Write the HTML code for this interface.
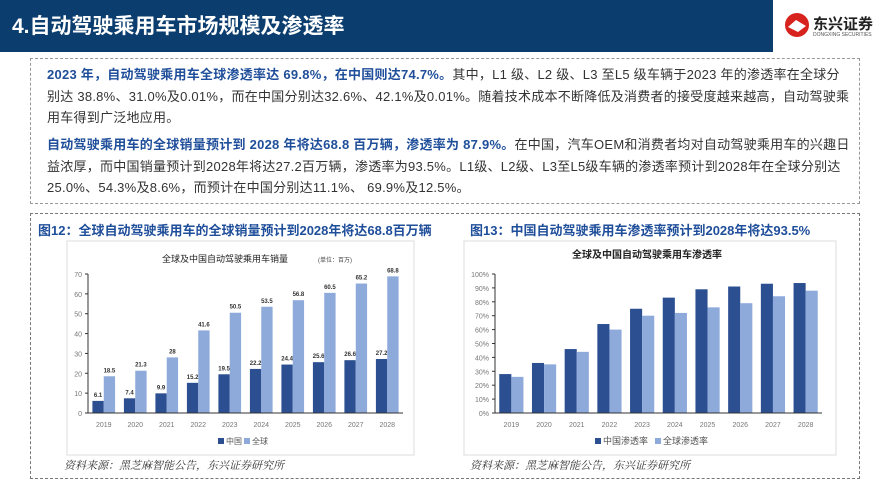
<!DOCTYPE html>
<html><head><meta charset="utf-8">
<style>
body{margin:0;width:889px;height:500px;background:#fff;position:relative;overflow:hidden;font-family:"Liberation Sans","Noto Sans CJK SC",sans-serif;}
.abs{position:absolute;}
#hdr{left:0;top:0;width:773px;height:52px;background:#0b3d6e;}
#hdr span{position:absolute;left:12px;top:10px;color:#fff;font-size:21px;font-weight:bold;}
.txt{font-size:13px;color:#333;line-height:21.5px;white-space:nowrap;letter-spacing:0.25px;}
.b{color:#1f4e9a;font-weight:bold;}
.cap{font-size:13px;color:#1f4e9a;font-weight:bold;}
.src{font-size:11px;font-style:italic;color:#333;font-family:"Liberation Serif","Noto Serif CJK SC",serif;}
svg text{font-family:"Liberation Sans","Noto Sans CJK SC",sans-serif;}
</style></head><body>
<div id="hdr" class="abs"><span>4.自动驾驶乘用车市场规模及渗透率</span></div>
<div class="abs" style="left:784px;top:12px;width:100px;height:30px;">
<svg width="26" height="26" style="position:absolute;left:0;top:0"><circle cx="13" cy="13" r="12" fill="#d7231e"/><path d="M4 15 L12 8 L22 14 L14 20Z" fill="#fff"/></svg>
<span style="position:absolute;left:29px;top:1px;font-size:15px;font-weight:bold;color:#222;">东兴证券</span>
<span style="position:absolute;left:29px;top:20px;font-size:5px;color:#555;">DONGXING SECURITIES</span>
</div>
<div class="abs" style="left:30px;top:58px;width:828px;height:144px;border:1px dashed #999;">
<div class="abs txt" style="left:16px;top:5px;width:800px;"><span class="b">2023 年，自动驾驶乘用车全球渗透率达 69.8%，在中国则达74.7%。</span>其中，L1 级、L2 级、L3 至L5 级车辆于2023 年的渗透率在全球分<br>别达 38.8%、31.0%及0.01%，而在中国分别达32.6%、42.1%及0.01%。随着技术成本不断降低及消费者的接受度越来越高，自动驾驶乘<br>用车得到广泛地应用。</div>
<div class="abs txt" style="left:16px;top:75px;width:800px;"><span class="b">自动驾驶乘用车的全球销量预计到 2028 年将达68.8 百万辆，渗透率为 87.9%。</span>在中国，汽车OEM和消费者均对自动驾驶乘用车的兴趣日<br>益浓厚，而中国销量预计到2028年将达27.2百万辆，渗透率为93.5%。L1级、L2级、L3至L5级车辆的渗透率预计到2028年在全球分别达<br>25.0%、54.3%及8.6%，而预计在中国分别达11.1%、 69.9%及12.5%。</div>
</div>
<div class="abs" style="left:30px;top:213px;width:828px;height:264px;border:1px dashed #777;"></div>
<div class="abs cap" style="left:38px;top:220px;">图12：全球自动驾驶乘用车的全球销量预计到2028年将达68.8百万辆</div>
<div class="abs cap" style="left:470px;top:220px;">图13：中国自动驾驶乘用车渗透率预计到2028年将达93.5%</div>
<div class="abs src" style="left:64px;top:457px;">资料来源：黑芝麻智能公告，东兴证券研究所</div>
<div class="abs src" style="left:470px;top:457px;">资料来源：黑芝麻智能公告，东兴证券研究所</div>
<svg class="abs" style="left:0;top:0" width="889" height="500" id="s">
<rect x="67" y="241" width="347" height="214" fill="#fff" stroke="#ddd"/>
<rect x="464" y="241" width="372" height="214" fill="#fff" stroke="#ddd"/>
<g id="c1"></g><g id="c2"></g>
</svg>
<script>
const years=["2019","2020","2021","2022","2023","2024","2025","2026","2027","2028"];
const salesChina=[6.1,7.4,9.9,15.2,19.5,22.2,24.4,25.6,26.6,27.2];
const salesGlobal=[18.5,21.3,28,41.6,50.5,53.5,56.8,60.5,65.2,68.8];
const salesTicks=[0,10,20,30,40,50,60,70];
const penChina=[28,36,46,64,75,83,89,91,93,93.5];
const penGlobal=[26,35,44,60,70,72,76,79,84,88];
const penTicks=[0,10,20,30,40,50,60,70,80,90,100];
const NS="http://www.w3.org/2000/svg";
function mk(p,t,a,txt){const e=document.createElementNS(NS,t);for(const k in a)e.setAttribute(k,a[k]);if(txt!==undefined)e.textContent=txt;p.appendChild(e);return e;}
const dark="#2b4f91",light="#8eaadb";
function chart(g,o){
  const x0=o.x0,x1=o.x1,y0=o.y0,y1=o.y1;
  const ys=v=>y0-(v/o.max)*(y0-y1);
  const bw=(x1-x0)/years.length;
  let t=mk(g,'text',{x:o.tx,y:o.ty,'text-anchor':'middle','font-size':o.tfs,'font-weight':o.tb,fill:'#222'},o.title);
  
  o.ticks.forEach(v=>{const e=mk(g,'text',{x:x0-6,y:ys(v)+3,'text-anchor':'end','font-size':7,fill:'#777'},v+o.suf);
    
    mk(g,'line',{x1:x0-3,x2:x0,y1:ys(v),y2:ys(v),stroke:'#333'});});
  years.forEach((yr,i)=>{
    const cx=x0+bw*(i+0.5);const w=bw*o.wf;
    [[o.a,dark,-1],[o.b,light,0]].forEach(([arr,c,off])=>{
      const r=mk(g,'rect',{x:cx+off*w,y:ys(arr[i]),width:w,height:y0-ys(arr[i]),fill:c});
      
      if(o.labels){const l=mk(g,'text',{x:cx+off*w+w/2,y:ys(arr[i])-4,'text-anchor':'middle','font-size':6,'font-weight':'bold',fill:'#333','font-family':'Liberation Serif'},arr[i]);
        }
    });
    const e=mk(g,'text',{x:cx,y:y0+14,'text-anchor':'middle','font-size':7,fill:'#777'},yr);
    
  });
  mk(g,'line',{x1:x0,x2:x0,y1:y1,y2:y0,stroke:'#333'});
  mk(g,'line',{x1:x0,x2:x1,y1:y0,y2:y0,stroke:'#333'});
  const L=o.leg;
  mk(g,'rect',{x:L.x,y:L.y-6,width:6,height:6,fill:dark});
  let a=mk(g,'text',{x:L.x+8,y:L.y,'font-size':L.fs,fill:'#555'},L.a);
  mk(g,'rect',{x:L.x2,y:L.y-6,width:6,height:6,fill:light});
  let b=mk(g,'text',{x:L.x2+8,y:L.y,'font-size':L.fs,fill:'#555'},L.b);
}
chart(document.getElementById('c1'),{x0:88,x1:403,y0:413,y1:274,max:70,ticks:salesTicks,suf:'',a:salesChina,b:salesGlobal,wf:0.36,labels:true,
  title:'全球及中国自动驾驶乘用车销量',tx:225,ty:262,tfs:9,tb:'normal',
  leg:{x:218,y:444,x2:244,fs:8,a:'中国',b:'全球'}});
document.querySelector('#c1 text').insertAdjacentHTML('afterend','<text x="318" y="262" font-size="6" fill="#444">(单位：百万)</text>');
chart(document.getElementById('c2'),{x0:495,x1:822,y0:413,y1:274,max:100,ticks:penTicks,suf:'%',a:penChina,b:penGlobal,wf:0.37,labels:false,
  title:'全球及中国自动驾驶乘用车渗透率',tx:647,ty:258,tfs:10,tb:'bold',
  leg:{x:595,y:444,x2:655,fs:9,a:'中国渗透率',b:'全球渗透率'}});
</script>
</body></html>
